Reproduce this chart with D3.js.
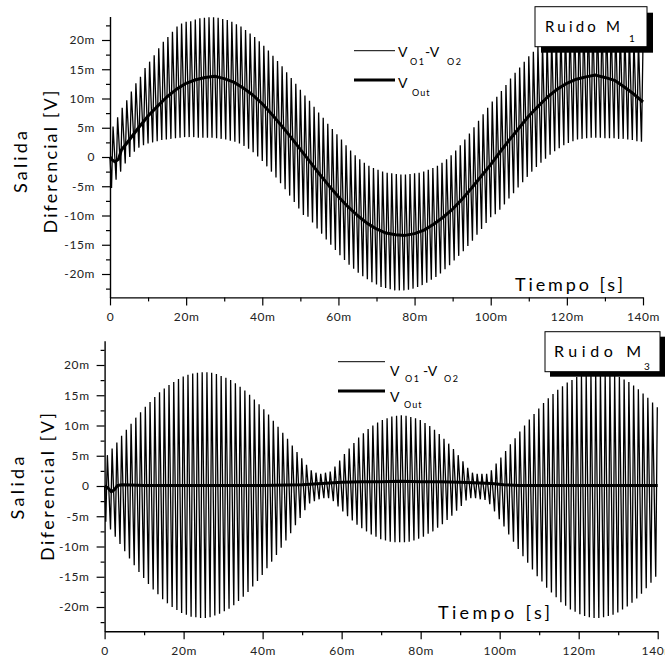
<!DOCTYPE html>
<html><head><meta charset="utf-8">
<script src="https://cdn.jsdelivr.net/npm/d3@7"></script>
<style>
body{margin:0;background:#fff}
svg{display:block}
text{font-family:Lato,"Open Sans",sans-serif;fill:#000}
</style>
</head><body>
<svg id="c" width="665" height="657"></svg>
<script>
// ---------- tick values & labels (time in ms, voltage in mV) ----------
const xTickValues = [0,20,40,60,80,100,120,140];
const xTickLabels = ["0","20m","40m","60m","80m","100m","120m","140m"];
const xMinorTicks = [10,30,50,70,90,110,130];
const yTickValues = [-20,-15,-10,-5,0,5,10,15,20];
const yTickLabels = ["-20m","-15m","-10m","-5m","0","5m","10m","15m","20m"];
const yMinorTicks = [-22.5,-17.5,-12.5,-7.5,-2.5,2.5,7.5,12.5,17.5,22.5];

// ---------- fast signal V_O1-V_O2 : one peak / trough per cycle ----------
const cyclePeriod = 1.2;      // ms
const riseTime = 0.4;         // ms from trough to peak
const topFirstPeak = 0.8, bottomFirstPeak = 0.7;

const topPeaks = [5.2,6.8,8.4,9.7,11.2,12.6,13.7,15.2,16.3,17.4,18.6,19.7,20.5,21.4,22.3,22.8,23.1,
 23.2,23.5,23.7,23.8,23.9,23.9,23.8,23.6,23.4,23.1,22.7,22.3,21.7,21.1,20.5,19.8,19.0,18.2,17.3,16.4,15.5,14.5,13.5,12.5,11.5,10.5,
 9.6,8.6,7.6,6.7,5.7,4.8,3.9,
 3.0,2.0,1.1,0.3,-0.4,-1.0,-1.5,-1.9,-2.2,-2.5,-2.7,-2.8,-2.9,-3.0,-3.0,-2.9,-2.8,-2.7,-2.5,-2.2,-1.9,-1.5,-1.0,-0.4,0.3,1.1,2.0,3.0,4.0,
 5.1,6.2,7.3,8.4,9.5,
 10.3,11.3,12.3,13.4,14.4,15.3,16.3,17.2,18.0,18.9,19.6,20.4,21.0,21.6,22.2,22.6,23.0,23.3,23.6,23.7,23.9,23.9,23.8,23.7,23.5,23.2,22.8,22.4,21.9,21.3,20.7,20.0,19.3];
const topTroughs = [-5.3,-3.9,-2.5,-1.1,0.0,0.9,1.6,2.0,2.3,2.5,2.7,2.9,3.0,3.1,3.2,3.3,3.4,
 3.4,3.4,3.3,3.3,3.3,3.3,3.2,
 3.1,3.0,2.8,2.6,2.3,1.9,1.4,0.8,0.1,-0.7,-1.6,-2.5,-3.5,-4.5,-5.5,-6.6,-7.7,-8.8,-9.9,
 -10.2,-11.2,-12.2,-13.1,-14.1,-15.0,-15.9,-16.8,-17.6,-18.4,-19.1,-19.8,-20.4,-20.9,-21.4,-21.8,-22.2,-22.4,-22.6,-22.8,-22.8,-22.8,-22.7,-22.5,-22.2,-21.9,-21.5,-21.0,-20.5,-19.9,-19.2,-18.5,-17.7,-16.9,-16.1,-15.2,-14.3,-13.3,-12.3,-11.3,-10.3,
 -9.8,-9.0,-8.1,-7.1,-6.2,-5.2,-4.3,-3.4,-2.5,-1.7,-1.0,-0.3,0.4,1.0,1.5,2.0,
 2.4,2.7,3.0,3.1,3.2,3.3,3.3,3.3,3.2,3.2,3.2,3.1,3.1,3.0,2.9,2.7,2.6];

const bottomPeaks = [5.1,6.2,7.2,8.3,9.3,10.3,11.3,12.2,13.1,13.9,
 14.7,15.5,16.1,16.7,17.2,17.7,18.1,18.4,18.6,18.7,
 18.8,18.8,18.7,18.5,18.2,17.9,17.5,17.0,16.4,15.8,
 15.1,14.3,13.5,12.7,11.8,10.8,9.8,8.8,7.8,6.7,
 5.6,4.6,3.5,2.6,2.2,2.0,
 2.2,2.4,3.2,4.2,5.3,6.2,7.1,8.0,8.7,9.4,
 10.0,10.5,10.9,11.2,11.5,11.6,11.7,11.6,11.4,11.2,
 10.9,10.4,9.9,9.3,8.6,7.8,7.0,6.1,5.1,4.1,
 3.0,2.2,2.0,
 2.0,2.0,2.6,3.7,4.7,5.8,6.9,7.9,9.0,10.0,
 11.0,11.9,12.8,13.7,14.5,15.2,15.9,16.5,17.1,17.5,
 18.0,18.3,18.5,18.7,18.8,18.8,18.7,18.6,18.3,18.0,
 17.6,17.2,16.6,16.0,15.3,14.6,13.8,13.0];
const bottomTroughs = [-5.9,-7.2,-8.4,-9.6,-10.8,-12.0,-13.1,-14.2,-15.2,-16.2,
 -17.1,-17.9,-18.7,-19.4,-20.0,-20.5,-21.0,-21.3,-21.6,-21.7,
 -21.8,-21.8,-21.7,-21.4,-21.1,-20.7,-20.3,-19.7,-19.0,-18.3,
 -17.5,-16.6,-15.7,-14.7,-13.6,-12.5,-11.4,-10.2,-9.0,-7.8,
 -6.5,-5.3,-4.0,-2.9,-2.5,-2.2,
 -2.0,-2.0,-2.5,-3.4,-4.2,-5.0,-5.7,-6.4,-7.0,-7.5,
 -8.0,-8.4,-8.8,-9.0,-9.2,-9.3,-9.3,-9.3,-9.2,-9.0,
 -8.7,-8.4,-7.9,-7.5,-6.9,-6.3,-5.6,-4.9,-4.1,-3.3,
 -2.4,-2.0,-2.0,
 -2.2,-2.3,-3.0,-4.2,-5.5,-6.7,-8.0,-9.2,-10.4,-11.6,
 -12.7,-13.8,-14.9,-15.8,-16.8,-17.6,-18.4,-19.2,-19.8,-20.4,
 -20.8,-21.2,-21.5,-21.7,-21.8,-21.8,-21.7,-21.5,-21.3,-20.9,
 -20.4,-19.9,-19.3,-18.6,-17.8,-16.9,-16.0,-15.0];

// ---------- V_Out ----------
const voutTopT = [0,0.6,1.3,2.2,3.0,4.7,7.5,10,12.5,15,17.5,20,22.5,25,27.5,30,32.5,35,37.5,40,42.5,45,47.5,50,52.5,55,57.5,60,62.5,65,67.5,70,72.5,75,77.5,80,82.5,85,87.5,90,92.5,95,97.5,100,102.5,105,107.5,110,112.5,115,117.5,120,122.5,125,127.5,130,132.5,135,137.5,140];
const voutTopV = [0,-0.5,-0.8,-0.4,1.2,2.6,5.0,7.0,8.7,10.3,11.6,12.6,13.2,13.6,13.8,13.4,12.8,11.8,10.6,9.1,7.3,5.4,3.4,1.3,-0.8,-2.9,-4.9,-6.8,-8.5,-10.0,-11.3,-12.3,-13.0,-13.3,-13.4,-13.1,-12.5,-11.5,-10.3,-8.9,-7.2,-5.3,-3.3,-1.3,0.9,3.0,5.0,7.0,8.7,10.3,11.6,12.6,13.3,13.7,14.0,13.6,13.1,12.0,10.8,9.4];
const voutBottomT = [0,0.8,1.7,2.5,3.3,4.5,10,20,30,40,50,55,60,65,70,75,80,85,90,95,98,101,105,120,140];
const voutBottomV = [0,-0.3,-0.95,-0.6,0.1,0.2,0.1,0.1,0.1,0.1,0.2,0.4,0.6,0.7,0.7,0.8,0.7,0.7,0.6,0.5,0.4,0.2,0.1,0.1,0.1];

const svg = d3.select("#c");

function panel(cfg){
  const x = d3.scaleLinear().domain([0,140]).range([cfg.x0, cfg.x1]);
  const y = d3.scaleLinear().domain([-24,24]).range([cfg.yb, cfg.yt]);
  const g = svg.append("g");

  // fast signal
  const pts = [[0,0]];
  cfg.peaks.forEach((p,i)=>{
    const tp = cfg.firstPeak + i*cyclePeriod;
    pts.push([tp - riseTime, cfg.troughs[i]]);
    pts.push([tp, p]);
  });
  const line = d3.line().x(d=>x(d[0])).y(d=>y(d[1]));
  g.append("path").attr("d", line(pts)).attr("fill","none")
    .attr("stroke","#000").attr("stroke-width",1.3).attr("stroke-linejoin","miter");

  // Vout
  const vp = cfg.voutT.map((t,i)=>[t, cfg.voutV[i]]);
  g.append("path").attr("d", line(vp)).attr("fill","none")
    .attr("stroke","#000").attr("stroke-width",3).attr("stroke-linejoin","round");

  // axes
  const styleAxis = a => {
    a.attr("font-family",null).attr("font-size",null);
    a.selectAll("line").attr("stroke","#000").attr("stroke-width",1.2);
    a.selectAll("path").attr("stroke","#000").attr("stroke-width",1.4);
    a.selectAll("text").style("font-size","12px").style("fill","#222").style("letter-spacing","0.6px");
  };
  const ax = g.append("g").attr("transform",`translate(0,${cfg.yb})`)
    .call(d3.axisBottom(x).tickValues(xTickValues).tickFormat((d,i)=>xTickLabels[i])
      .tickSize(8).tickPadding(7.5).tickSizeOuter(0));
  styleAxis(ax);
  const axm = g.append("g").attr("transform",`translate(0,${cfg.yb})`)
    .call(d3.axisBottom(x).tickValues(xMinorTicks).tickFormat("").tickSize(4).tickSizeOuter(0));
  axm.select(".domain").remove(); styleAxis(axm);

  const ay = g.append("g").attr("transform",`translate(${cfg.x0},0)`)
    .call(d3.axisLeft(y).tickValues(yTickValues).tickFormat((d,i)=>yTickLabels[i])
      .tickSize(8).tickPadding(7).tickSizeOuter(0));
  styleAxis(ay);
  const aym = g.append("g").attr("transform",`translate(${cfg.x0},0)`)
    .call(d3.axisLeft(y).tickValues(yMinorTicks).tickFormat("").tickSize(4).tickSizeOuter(0));
  aym.select(".domain").remove(); styleAxis(aym);

  // y title (two lines)
  g.append("text").attr("transform",`translate(${cfg.sal[0]},${cfg.sal[1]}) rotate(-90)`)
    .attr("text-anchor","middle").attr("dominant-baseline","central")
    .attr("textLength",cfg.sal[2]).attr("lengthAdjust","spacing")
    .style("font-size","18px").text("Salida");
  g.append("text").attr("transform",`translate(${cfg.dif[0]},${cfg.dif[1]}) rotate(-90)`)
    .attr("text-anchor","middle").attr("dominant-baseline","central")
    .attr("textLength",cfg.dif[2]).attr("lengthAdjust","spacing")
    .style("font-size","18px").text("Diferencial [V]");

  // x title
  g.append("text").attr("x",cfg.tie[0]).attr("y",cfg.tie[1])
    .attr("textLength",cfg.tie[2]).attr("lengthAdjust","spacing")
    .style("font-size","18px").text("Tiempo [s]");

  // legend
  const L = cfg.leg;
  g.append("line").attr("x1",L.x1).attr("x2",L.x2).attr("y1",L.y1).attr("y2",L.y1)
    .attr("stroke","#000").attr("stroke-width",1);
  g.append("line").attr("x1",L.x1).attr("x2",L.x2).attr("y1",L.y2).attr("y2",L.y2)
    .attr("stroke","#000").attr("stroke-width",3);
  const t1 = g.append("text");
  t1.append("tspan").attr("x",L.tx).attr("y",L.b1).style("font-size","14px").text("V");
  t1.append("tspan").attr("x",L.sx1).attr("y",L.b1+L.sub).style("font-size","9px").style("letter-spacing","1.5px").text("O1");
  t1.append("tspan").attr("x",L.dx).attr("y",L.b1).style("font-size","14px").text("-V");
  t1.append("tspan").attr("x",L.sx2).attr("y",L.b1+L.sub).style("font-size","9px").style("letter-spacing","1.5px").text("O2");
  const t2 = g.append("text");
  t2.append("tspan").attr("x",L.tx).attr("y",L.b2).style("font-size","14px").text("V");
  t2.append("tspan").attr("x",L.sx3).attr("y",L.b2+L.sub).style("font-size","9px").style("letter-spacing","1px").text("Out");

  // title box with shadow
  const B = cfg.box;
  g.append("rect").attr("x",B.x+B.s).attr("y",B.y+B.s).attr("width",B.w).attr("height",B.h).attr("fill","#000");
  g.append("rect").attr("x",B.x).attr("y",B.y).attr("width",B.w).attr("height",B.h)
    .attr("fill","#fff").attr("stroke","#000").attr("stroke-width",1);
  g.append("text").attr("x",B.tx).attr("y",B.tb).attr("textLength",B.tl).attr("lengthAdjust","spacing")
    .style("font-size",B.fs+"px").text("Ruido M");
  g.append("text").attr("x",B.sx).attr("y",B.sb).style("font-size","10px").text(B.sub);
}

panel({x0:110, x1:643, yt:16.6, yb:297.4, peaks:topPeaks, troughs:topTroughs, firstPeak:topFirstPeak,
  voutT:voutTopT, voutV:voutTopV,
  sal:[20,162,62], dif:[50,162,143], tie:[515,291,108],
  leg:{x1:354,x2:395,y1:50.7,y2:80,tx:398,b1:56.5,b2:88,sub:8,sx1:410,dx:425,sx2:447,sx3:412},
  box:{x:535,y:6.7,w:112,h:40,s:6,tx:545,tb:31.7,tl:75,fs:15,sx:629,sb:41.5,sub:"1"}});

panel({x0:104.6, x1:657.7, yt:340.8, yb:631.2, peaks:bottomPeaks, troughs:bottomTroughs, firstPeak:bottomFirstPeak,
  voutT:voutBottomT, voutV:voutBottomV,
  sal:[17,488,63], dif:[47,487,148], tie:[438,619,112],
  leg:{x1:338,x2:385,y1:361.7,y2:391,tx:390,b1:375.5,b2:401.5,sub:6,sx1:405,dx:423,sx2:444,sx3:404},
  box:{x:545,y:331.7,w:115,h:40,s:5,tx:554,tb:356.7,tl:87,fs:16,sx:644,sb:369.5,sub:"3"}});
</script>
</body></html>
